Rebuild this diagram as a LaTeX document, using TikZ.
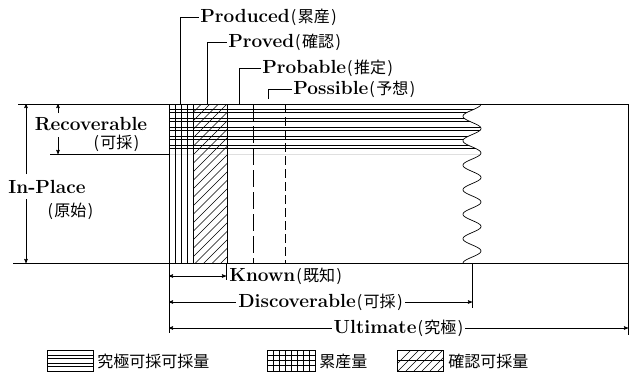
\documentclass[tikz,border=0pt]{standalone}
\usepackage{fontspec}
\newfontfamily\jp{Noto Sans CJK JP}
\usetikzlibrary{arrows,positioning,calc}
\tikzstyle{lab} = [font=\fontsize{19}{21}\selectfont\bfseries, inner sep=1pt]
\tikzstyle{leg} = [font=\fontsize{16}{18}\selectfont\jp, inner sep=1pt, anchor=west]
\tikzstyle{frame} = [line width=1pt]
\tikzstyle{stripe} = [line width=0.6pt]
\tikzstyle{dim} = [<->, line width=0.6pt]
\newcommand{\jt}[1]{{\jp\mdseries\fontsize{16}{18}\selectfont\kern1pt(\kern1.5pt#1\kern1.5pt)}}

\begin{document}
\begin{tikzpicture}[x=1pt, y=-1pt, >=stealth', line width=0.7pt]
    \useasboundingbox (0,0) rectangle (640,372);
    % Frame
    \coordinate (tl) at (18,104);
    \coordinate (tr) at (628,104);
    \coordinate (bl) at (13,263);
    \coordinate (br) at (628,263);
    \coordinate (rl) at (50,154);
    \coordinate (rr) at (169,154);
    \draw [frame] (tl) -- (tr) -- (br) -- (bl);
    \draw [frame] (rl) -- (rr);

    % Upper stripes, cut by the wave
    \begin{scope}
        \clip (169,104) -- plot[domain=104:154, samples=60, variable=\t] ({472+9*cos(14.694*(\t-104))}, \t) -- (169,154) -- cycle;
        \foreach \s in {109,112,118,121,127,130,136,139,145,148}
            \draw [stripe] (169,\s) -- (490,\s);
        \draw [frame] (169,154) -- (490,154);
    \end{scope}
    \draw plot[domain=104:263, samples=160, variable=\t] ({472+9*cos(14.694*(\t-104))}, \t);

    % Produced and proved columns
    \foreach \c in {175,181,187}
        \draw [stripe] (\c,104) -- (\c,263);
    \begin{scope}
        \clip (193,104) rectangle (227,263);
        \foreach \s in {104,112.5,...,310}
            \draw [stripe] (193,\s) -- ++(45,-45);
    \end{scope}
    \draw [frame] (169,104) -- (169,263);
    \draw [frame] (193,104) -- (193,263);
    \draw [frame] (227,104) -- (227,263);
    \draw [dash pattern=on 17pt off 5pt] (253,104) -- (253,263);
    \draw [dash pattern=on 9pt off 4pt] (285,104) -- (285,263);

    % Top labels
    \coordinate (pdc) at (180,104);
    \coordinate (pvc) at (207,104);
    \coordinate (pbc) at (239,104);
    \coordinate (psc) at (268,99);
    \node [lab, anchor=west] (produced) at (199,17) {Produced\jt{累産}};
    \node [lab, anchor=west] (proved) at (227,42) {Proved\jt{確認}};
    \node [lab, anchor=west] (probable) at (261,68) {Probable\jt{推定}};
    \node [lab, anchor=west] (possible) at (292,89) {Possible\jt{予想}};
    \draw (pdc) |- (produced.west);
    \draw (pvc) |- (proved.west);
    \draw (pbc) |- (probable.west);
    \draw (psc) |- (possible.west);

    % Left labels
    \node [lab] (recov) at (91,124) {Recoverable};
    \node [lab] (recovj) at (116,143) {\jt{可採}};
    \node [lab] (inplace) at (47,187) {In-Place};
    \node [lab] (inplacej) at (70,211) {\jt{原始}};
    \coordinate (ra) at (58,113);
    \coordinate (rb) at (58,137);
    \coordinate (ia) at (26,174);
    \coordinate (ib) at (26,199);
    \draw [->, line width=0.6pt] (ra) -- (ra |- tl);
    \draw [->, line width=0.6pt] (rb) -- (rb |- rl);
    \draw [->, line width=0.6pt] (ia) -- (ia |- tl);
    \draw [->, line width=0.6pt] (ib) -- (ib |- bl);

    % Bottom dimensions
    \coordinate (k0) at (169,263);
    \coordinate (k1) at (226,263);
    \coordinate (k2) at (472,263);
    \coordinate (k3) at (628,263);
    \draw (k0) -- ++(0,70);
    \draw (k1) -- ++(0,17);
    \draw (k2) -- ++(0,45);
    \draw (k3) -- ++(0,72);
    \draw [dim] ($(k0)+(0,13)$) -- node [lab, anchor=west, at end, xshift=2pt] (known) {Known\jt{既知}} ($(k1)+(0,13)$);
    \draw [dim] ($(k0)+(0,39)$) -- node [lab, fill=white, inner sep=2pt] (disc) {Discoverable\jt{可採}} ($(k2)+(0,39)$);
    \draw [dim] ($(k0)+(0,65)$) -- node [lab, fill=white, inner sep=2pt] (ult) {Ultimate\jt{究極}} ($(k3)+(0,65)$);

    % Legend
    \draw [stripe] (47,350) rectangle (93,371);
    \foreach \s in {355,358,363,366}
        \draw [stripe] (47,\s) -- (93,\s);
    \node [leg] (legu) at (96,361) {究極可採可採量};
    \draw [stripe] (267,350) rectangle (315,371);
    \foreach \s in {355,360,365}
        \draw [stripe] (267,\s) -- (315,\s);
    \foreach \c in {273,279,...,309}
        \draw [stripe] (\c,350) -- (\c,371);
    \node [leg] (legp) at (318,361) {累産量};
    \begin{scope}
        \clip (397,350) rectangle (443,371);
        \foreach \c in {390,398,...,450}
            \draw [stripe] (\c,371) -- ++(21,-21);
    \end{scope}
    \draw [stripe] (397,350) rectangle (443,371);
    \draw [stripe] (397,360.5) -- (443,360.5);
    \node [leg] (legv) at (447,361) {確認可採量};
\end{tikzpicture}
\end{document}
